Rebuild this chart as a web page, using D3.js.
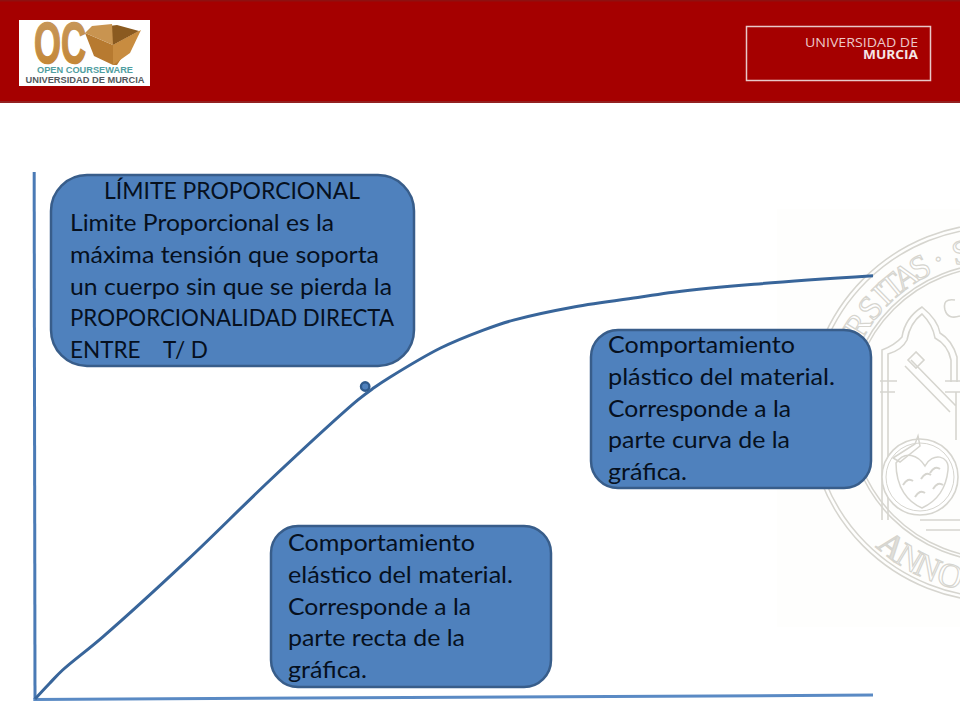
<!DOCTYPE html>
<html><head><meta charset="utf-8">
<style>html,body{margin:0;padding:0;background:#fff}svg{display:block}text{font-family:Lato,"Open Sans",sans-serif}</style>
<script src="https://cdn.jsdelivr.net/npm/d3@7/dist/d3.min.js"></script>
</head><body><svg id="c" width="960" height="720"></svg>
<script>
// Curve (strain %, stress %) as fractions of the axes
const strain = [0,1.7,3.3,8.1,18.2,28.1,38.5,40.4,42.4,48.4,53.5,57.1,64.3,72.3,76.2,85.8,100];
const stress = [0,2.9,5.5,11.8,26.4,41.6,56.7,59,61.1,66.6,70,71.9,74.4,76.3,77.2,78.7,80.3];
const limitPoint = [39.4,59.3];
const xAxisEnd = [100,0.75];
const yAxisEnd = [-0.1,100];
const box1Title = "LÍMITE PROPORCIONAL";
const box1Lines = ["Limite Proporcional es la","máxima tensión que soporta","un cuerpo sin que se pierda la","PROPORCIONALIDAD DIRECTA","ENTRE    T/ D"];
const box2Lines = ["Comportamiento","elástico del material.","Corresponde a la","parte recta de la","gráfica."];
const box3Lines = ["Comportamiento","plástico del material.","Corresponde a la","parte curva de la","gráfica."];
const sealTopLetters = ["R","S","I","T","A","S","·","S"];
const sealTopAngles = [-58,-50.4,-44.5,-39.5,-33.9,-28,-21,-12.5];
const sealBottomLetters = ["A","N","N","O"];
const sealBottomAngles = [38.4,31,24,16];

const svg = d3.select("#c");
const x = d3.scaleLinear().domain([0,100]).range([35,873]);
const y = d3.scaleLinear().domain([0,100]).range([699,172]);
const defs = svg.append("defs");

// ---- seal watermark
const seal = svg.append("g");
seal.append("rect").attr("x",777).attr("y",209).attr("width",183).attr("height",418).attr("fill","#fefefd");
const cx=997, cy=412.5, sc="#d6d5cf";
[189,185,149,146].forEach(r=>seal.append("circle").attr("cx",cx).attr("cy",cy).attr("r",r).attr("fill","none").attr("stroke",sc).attr("stroke-width",1.5));
sealTopLetters.forEach((c,i)=>seal.append("text")
  .attr("transform",`rotate(${sealTopAngles[i]} ${cx} ${cy}) translate(${cx},${cy-153})`)
  .attr("text-anchor","middle").attr("font-size",34).attr("fill","#fff").attr("stroke",sc).attr("stroke-width",1.2)
  .style("font-family","'Liberation Serif'").text(c));
sealBottomLetters.forEach((c,i)=>seal.append("text")
  .attr("transform",`rotate(${sealBottomAngles[i]} ${cx} ${cy}) translate(${cx},${cy+181})`)
  .attr("text-anchor","middle").attr("font-size",34).attr("fill",i==0?"#e0dfda":"#fff").attr("stroke",sc).attr("stroke-width",1.2)
  .style("font-family","'Liberation Serif'").text(c));
// gothic niche
const gl = d3.path();
gl.moveTo(882,520); gl.lineTo(882,350); gl.quadraticCurveTo(895,345,902,337); gl.quadraticCurveTo(905,318,922,307);
gl.quadraticCurveTo(938,320,940,333); gl.quadraticCurveTo(952,340,957,357); gl.lineTo(957,382);
gl.moveTo(888,520); gl.lineTo(888,354); gl.quadraticCurveTo(902,350,907,340); gl.quadraticCurveTo(910,323,922,314);
gl.quadraticCurveTo(933,325,935,338); gl.quadraticCurveTo(948,345,951,360); gl.lineTo(951,382);
gl.moveTo(880,381); gl.lineTo(897,381); gl.moveTo(880,392); gl.lineTo(895,392);
gl.moveTo(945,381); gl.lineTo(960,381); gl.moveTo(945,392); gl.lineTo(960,392);
gl.moveTo(956,392); gl.lineTo(956,440);
gl.moveTo(920,520); gl.lineTo(960,520); gl.moveTo(926,530); gl.lineTo(960,530);
gl.moveTo(955,300); gl.quadraticCurveTo(942,298,945,310); gl.quadraticCurveTo(948,320,960,316);
gl.moveTo(905,366); gl.lineTo(950,412); gl.moveTo(911,360); gl.lineTo(956,406);
gl.moveTo(916,352); gl.lineTo(908,360); gl.lineTo(916,368); gl.lineTo(924,360); gl.closePath();
seal.append("path").attr("d",gl.toString()).attr("fill","none").attr("stroke",sc).attr("stroke-width",1.6);
seal.append("circle").attr("cx",920).attr("cy",477).attr("r",38).attr("fill","#fff").attr("stroke",sc).attr("stroke-width",1.6);
seal.append("circle").attr("cx",920).attr("cy",477).attr("r",34).attr("fill","none").attr("stroke",sc).attr("stroke-width",1);
seal.append("path").attr("d","M896,463 C905,450 918,455 925,466 C932,452 950,455 948,470 C946,490 935,502 922,508 C908,502 896,488 896,463 Z")
  .attr("fill","none").attr("stroke",sc).attr("stroke-width",1.5);
[[908,482],[920,494],[935,470],[938,486],[926,476]].forEach(p=>seal.append("path").attr("d",`M${p[0]-5},${p[1]+3} q5,-8 10,-4`).attr("fill","none").attr("stroke",sc).attr("stroke-width",2));
seal.append("path").attr("d","M893,458 l22,-14 l3,-8 l2,10 l-20,16 Z").attr("fill","none").attr("stroke",sc).attr("stroke-width",1.5);

// ---- header
svg.append("rect").attr("x",0).attr("y",0).attr("width",960).attr("height",102).attr("fill","#a50000");
svg.append("rect").attr("x",0).attr("y",0).attr("width",960).attr("height",1.5).attr("fill","#8f1010");
svg.append("rect").attr("x",0).attr("y",101).attr("width",960).attr("height",2).attr("fill","#932020");
svg.append("rect").attr("x",746.5).attr("y",26.5).attr("width",184).attr("height",54).attr("fill","none").attr("stroke","#e8c8c8").attr("stroke-width",1.5);
svg.append("text").attr("x",918).attr("y",46.5).attr("text-anchor","end").attr("font-size",12.5).attr("fill","#edc8c8").attr("textLength",113).attr("lengthAdjust","spacingAndGlyphs").style("font-family","'Open Sans'").text("UNIVERSIDAD DE");
svg.append("text").attr("x",918).attr("y",59).attr("text-anchor","end").attr("font-size",12.5).attr("font-weight",700).attr("fill","#f5e6e6").attr("textLength",55).attr("lengthAdjust","spacingAndGlyphs").style("font-family","'Open Sans'").text("MURCIA");

// ---- logo
const lg = defs.append("linearGradient").attr("id","gold").attr("x1",0).attr("y1",0).attr("x2",0).attr("y2",1);
lg.append("stop").attr("offset",0).attr("stop-color","#c79a62");
lg.append("stop").attr("offset",1).attr("stop-color","#c4842f");
svg.append("rect").attr("x",19).attr("y",20).attr("width",131).attr("height",66).attr("fill","#fff");
svg.append("text").attr("x",34).attr("y",63).attr("font-size",58).attr("font-weight",700).attr("fill","url(#gold)").attr("stroke","url(#gold)").attr("stroke-width",1.6).attr("textLength",52).attr("lengthAdjust","spacingAndGlyphs").style("font-family","'Liberation Sans'").text("OC");
svg.append("path").attr("d","M85,33 L113,45 L139,31 L117,65 L113,65 L94,56 Z").attr("fill","#b77a30");
svg.append("path").attr("d","M113,45 L139,31 L117,25 L92,28 Z").attr("fill","#8a5a20");
svg.append("path").attr("d","M85,33 L92,26 L112,24 L113,45 Z").attr("fill","#c99450");
svg.append("path").attr("d","M113,45 L141,30 L130,53 L113,65 Z").attr("fill","#c88c40");
svg.append("text").attr("x",85).attr("y",72.5).attr("text-anchor","middle").attr("font-size",9).attr("font-weight",700).attr("fill","#4f9ea0").attr("textLength",96).attr("lengthAdjust","spacingAndGlyphs").style("font-family","'Liberation Sans'").text("OPEN COURSEWARE");
svg.append("text").attr("x",85).attr("y",82.5).attr("text-anchor","middle").attr("font-size",9).attr("font-weight",700).attr("fill","#55595c").attr("textLength",119).attr("lengthAdjust","spacingAndGlyphs").style("font-family","'Liberation Sans'").text("UNIVERSIDAD DE MURCIA");

// ---- axes
const axisLine = d3.line().x(d=>x(d[0])).y(d=>y(d[1]));
svg.append("path").attr("d",axisLine([[0,0],yAxisEnd])).attr("fill","none").attr("stroke","#4a7ab5").attr("stroke-width",3);
svg.append("path").attr("d",axisLine([[-0.2,-0.1],xAxisEnd])).attr("fill","none").attr("stroke","#5a8ac4").attr("stroke-width",3);

// ---- curve
const curve = d3.line().x(d=>x(d[0])).y(d=>y(d[1])).curve(d3.curveCatmullRom.alpha(0.5));
svg.append("path").attr("d",curve(strain.map((s,i)=>[s,stress[i]]))).attr("fill","none").attr("stroke","#38659a").attr("stroke-width",3);
svg.append("circle").attr("cx",x(limitPoint[0])).attr("cy",y(limitPoint[1])).attr("r",4.2).attr("fill","#4f81bd").attr("stroke","#2f5a8c").attr("stroke-width",2.4);

// ---- callouts
const fs = 22.2;
function box(bx,by,w,h,r){
  svg.append("rect").attr("x",bx).attr("y",by).attr("width",w).attr("height",h).attr("rx",r).attr("ry",r)
    .attr("fill","#4f81bd").attr("stroke","#385d8a").attr("stroke-width",2.5);
}
function lines(arr,tx,ty,widths){
  arr.forEach((t,i)=>{
    const el = svg.append("text").attr("x",tx).attr("y",ty+i*31.8).attr("font-size",fs).attr("fill","#06101e").style("white-space","pre").text(t);
    if(widths) el.attr("textLength",widths[i]).attr("lengthAdjust","spacingAndGlyphs");
  });
}
box(51,175,363,191,36);
svg.append("text").attr("x",232).attr("y",199).attr("text-anchor","middle").attr("font-size",fs).attr("fill","#06101e").attr("textLength",256).attr("lengthAdjust","spacingAndGlyphs").text(box1Title);
lines(box1Lines,70,231,[264,309,322,324,138]);
box(271,526,280,161,27);
lines(box2Lines,288,551,[187,225,183,177,79]);
box(591,330,280,158,27);
lines(box3Lines,608,353,[187,227,183,182,79]);
</script></body></html>
